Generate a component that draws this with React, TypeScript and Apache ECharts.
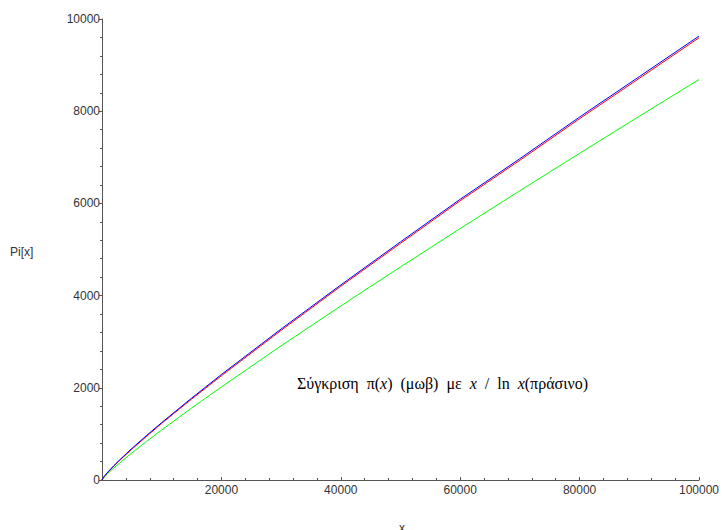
import React, { useEffect, useRef } from "react";
import * as echarts from "echarts";

const xValues = [0, 100, 500, 1000, 2000, 3000, 5000, 7500, 10000, 15000, 20000, 30000, 40000, 50000, 60000, 70000, 80000, 90000, 100000];
const piValues = [0, 25, 95, 168, 303, 430, 669, 950, 1229, 1754, 2262, 3245, 4203, 5133, 6057, 6935, 7837, 8713, 9592];
const liValues = [0, 29, 101, 177, 314, 442, 684, 970, 1245, 1775, 2288, 3275, 4231, 5166, 6090, 6970, 7873, 8750, 9629];
const xOverLnValues = [0, 22, 80, 145, 263, 375, 587, 841, 1086, 1560, 2019, 2910, 3775, 4621, 5454, 6275, 7086, 7890, 8686];

const yAxisLabel = "Pi[x]";
const xAxisLabel = "x";

const pairs = (ys: number[]) => xValues.map((x, i) => [x, ys[i]]);

export default function App() {
  const ref = useRef<HTMLDivElement>(null);
  useEffect(() => {
    if (!ref.current) return;
    const chart = echarts.init(ref.current, undefined, { renderer: "svg" });
    const axisColor = "#555555";
    const labelColor = "#333333";
    const sans = "Liberation Sans, Arial, sans-serif";
    const serif = "Liberation Serif, Times New Roman, serif";
    chart.setOption({
      animation: false,
      backgroundColor: "#ffffff",
      grid: { left: 102, right: 19, top: 19, bottom: 50, containLabel: false },
      xAxis: {
        type: "value",
        min: 0,
        max: 100000,
        interval: 20000,
        axisLine: { show: true, lineStyle: { color: axisColor, width: 1 } },
        axisTick: { show: true, inside: true, length: 3, lineStyle: { color: axisColor } },
        minorTick: { show: true, splitNumber: 5, length: 2, lineStyle: { color: axisColor } },
        splitLine: { show: false },
        axisLabel: {
          color: labelColor,
          fontFamily: sans,
          fontSize: 12,
          margin: 4,
          formatter: (v: number) => (v === 0 ? "" : String(v)),
        },
      },
      yAxis: {
        type: "value",
        min: 0,
        max: 10000,
        interval: 2000,
        axisLine: { show: true, lineStyle: { color: axisColor, width: 1 } },
        axisTick: { show: true, inside: false, length: 3, lineStyle: { color: axisColor } },
        minorTick: { show: true, splitNumber: 5, length: 2, lineStyle: { color: axisColor } },
        splitLine: { show: false },
        axisLabel: {
          color: labelColor,
          fontFamily: sans,
          fontSize: 12,
          margin: 2,
          formatter: (v: number) => String(v),
        },
      },
      series: [
        {
          type: "line",
          data: pairs(xOverLnValues),
          showSymbol: false,
          lineStyle: { color: "#00ff00", width: 1 },
        },
        {
          type: "line",
          data: pairs(piValues),
          showSymbol: false,
          lineStyle: { color: "#ff0000", width: 1 },
        },
        {
          type: "line",
          data: pairs(liValues),
          showSymbol: false,
          lineStyle: { color: "#0000ff", width: 1 },
        },
      ],
      graphic: [
        {
          type: "text",
          left: 10,
          top: 246,
          style: {
            text: yAxisLabel,
            fill: labelColor,
            font: "12px " + sans,
          },
        },
        {
          type: "text",
          left: 399,
          top: 522,
          style: {
            text: xAxisLabel,
            fill: labelColor,
            font: "12px " + sans,
          },
        },
        {
          type: "text",
          left: 297,
          top: 375,
          style: {
            text: "{r|Σύγκριση  π(}{i|x}{r|)  (μωβ)  με  }{i|x}{r|  /  ln  }{i|x}{r|(πράσινο)}",
            fill: "#000000",
            rich: {
              r: { fontFamily: serif, fontSize: 16, fill: "#000000" },
              i: { fontFamily: serif, fontSize: 16, fontStyle: "italic", fill: "#000000" },
            },
          },
        },
      ],
    });
    return () => chart.dispose();
  }, []);
  return <div ref={ref} style={{ position: "fixed", left: 0, top: 0, width: 722, height: 530 }} />;
}
